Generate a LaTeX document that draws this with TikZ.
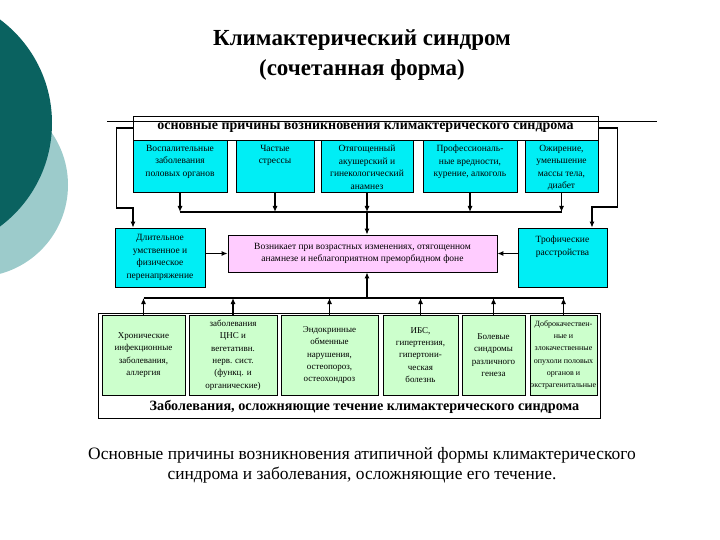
\documentclass[tikz,border=0pt]{standalone}
\usepackage{fontspec}
\setmainfont{Liberation Serif}
\usetikzlibrary{arrows.meta}

\definecolor{slidedark}{RGB}{10,98,96}
\definecolor{slidelight}{RGB}{156,203,203}
\definecolor{causecyan}{RGB}{0,238,245}
\definecolor{onsetpink}{RGB}{255,204,255}
\definecolor{illgreen}{RGB}{204,255,204}

% text hung from the top of a box of given height and width
\newcommand{\topcell}[3]{\parbox[c][#1][t]{#2}{\centering #3}}

\begin{document}
\begin{tikzpicture}[x=1pt,y=-1pt,
  txt/.style={font=\fontsize{9.5}{12.5}\selectfont, align=center},
  cause/.style={txt, draw, line width=0.8pt, fill=causecyan, inner xsep=1pt, inner ysep=5pt},
  ill/.style={txt, draw, line width=0.8pt, fill=illgreen, minimum height=80pt, inner sep=1pt, font=\fontsize{9}{12.3}\selectfont},
  wire/.style={line width=1.1pt},
  conn/.style={line width=1.1pt, -{Latex[length=6pt,width=5pt]}}]
  \useasboundingbox (0,0) rectangle (720,540);
  \clip (0,0) rectangle (720,540);
  % slide decoration
  \fill[slidelight] (-24,185) circle[radius=92pt];
  \fill[slidedark] (-77,123) circle[radius=129pt];
  \node[font=\bfseries\fontsize{23}{30}\selectfont, align=center] (title) at (362,55)
       {Климактерический синдром\\(сочетанная форма)};

  % causes
  \node[draw, line width=0.8pt, fill=white, minimum width=465pt, minimum height=24pt, inner sep=0pt,
        font=\bfseries\fontsize{14}{16}\selectfont] (causes) at (365.5,128)
       {основные причины возникновения климактерического синдрома};
  \draw[line width=0.8pt] (107,121) -- (657,121);
  \node[cause] (inflam)  at (180,166)   {\topcell{42pt}{92pt}{Воспалительные\\заболевания\\половых органов}};
  \node[cause] (stress)  at (275,166)   {\topcell{42pt}{76pt}{Частые\\стрессы}};
  \node[cause] (history) at (367,166)   {\topcell{42pt}{90pt}{Отягощенный\\акушерский и\\гинекологический\\анамнез}};
  \node[cause] (hazard)  at (470,166)   {\topcell{42pt}{92pt}{Профессиональ-\\ные вредности,\\курение, алкоголь}};
  \node[cause] (obesity) at (561.5,166) {\topcell{42pt}{71pt}{Ожирение,\\уменьшение\\массы тела,\\диабет}};

  \node[txt, draw, line width=0.8pt, fill=causecyan, minimum width=90pt, minimum height=59pt] (strain) at (160,257.5)
       {Длительное\\умственное и\\физическое\\перенапряжение};
  \node[txt, draw, line width=0.8pt, fill=onsetpink, minimum width=269pt, minimum height=37pt] (onset) at (362.5,253.5)
       {Возникает при возрастных изменениях, отягощенном\\анамнезе и неблагоприятном преморбидном фоне};
  \node[cause, inner ysep=8pt] (trophic) at (562.5,257.5) {\topcell{43pt}{87pt}{Трофические\\расстройства}};

  % complications
  \node[draw, line width=0.8pt, minimum width=502pt, minimum height=105pt, inner sep=0pt] (complframe) at (349,365.5) {};
  \node[font=\bfseries\fontsize{14.2}{16}\selectfont] (compl) at (364.5,407)
       {Заболевания, осложняющие течение климактерического синдрома};
  \node[ill, minimum width=83pt] (chronic) at (143.5,355) {Хронические\\инфекционные\\заболевания,\\аллергия};
  \node[ill, minimum width=88pt] (cns)     at (233,355)   {заболевания\\ЦНС и\\вегетативн.\\нерв. сист.\\(функц. и\\органические)};
  \node[ill, minimum width=97pt] (endo)    at (329.5,355) {Эндокринные\\обменные\\нарушения,\\остеопороз,\\остеохондроз};
  \node[ill, minimum width=75pt] (ihd)     at (420.5,355) {ИБС,\\гипертензия,\\гипертони-\\ческая\\болезнь};
  \node[ill, minimum width=63pt] (pain)    at (493.5,355) {Болевые\\синдромы\\различного\\генеза};
  \node[ill, minimum width=67pt, font=\fontsize{8}{12.3}\selectfont] (tumour) at (563.5,355)
       {Доброкачествен-\\ные и\\злокачественные\\опухоли половых\\органов и\\экстрагенитальные};

  % connectors
  \coordinate (topbus) at (0,212);
  \coordinate (lowbus) at (0,298);
  \coordinate (lknee) at (133,208);
  \coordinate (rknee) at (592,207);
  \draw[wire] (inflam.south |- topbus) -- (obesity.south |- topbus);
  \draw[conn] (inflam.south)  -- (inflam.south |- topbus);
  \draw[conn] (stress.south)  -- (stress.south |- topbus);
  \draw[conn] (history.south) -- (history.south |- topbus);
  \draw[conn] (hazard.south)  -- (hazard.south |- topbus);
  \draw[conn] (obesity.south) -- (obesity.south |- topbus);
  \draw[conn] (history.south |- topbus) -- (history.south |- onset.north);
  \draw[conn] (causes.west) -- ++(-16,0) |- (lknee) -- (lknee |- strain.north);
  \draw[conn] (causes.east) -- ++(19,0) |- (rknee) -- (rknee |- trophic.north);
  \draw[conn] (strain.east |- onset) -- (onset.west);
  \draw[conn] (trophic.west |- onset) -- (onset.east);

  \draw[wire] (chronic.north |- lowbus) -- (tumour.north |- lowbus);
  \draw[conn] (chronic.north) -- (chronic.north |- lowbus);
  \draw[conn] (cns.north)     -- (cns.north |- lowbus);
  \draw[conn] (endo.north)    -- (endo.north |- lowbus);
  \draw[conn] (ihd.north)     -- (ihd.north |- lowbus);
  \draw[conn] (pain.north)    -- (pain.north |- lowbus);
  \draw[conn] (tumour.north)  -- (tumour.north |- lowbus);
  \draw[conn] (history.south |- lowbus) -- (history.south |- onset.south);

  \node[font=\fontsize{17.4}{20}\selectfont, align=center] (caption) at (362,465)
       {Основные причины возникновения атипичной формы климактерического\\синдрома и заболевания, осложняющие его течение.};
\end{tikzpicture}
\end{document}
